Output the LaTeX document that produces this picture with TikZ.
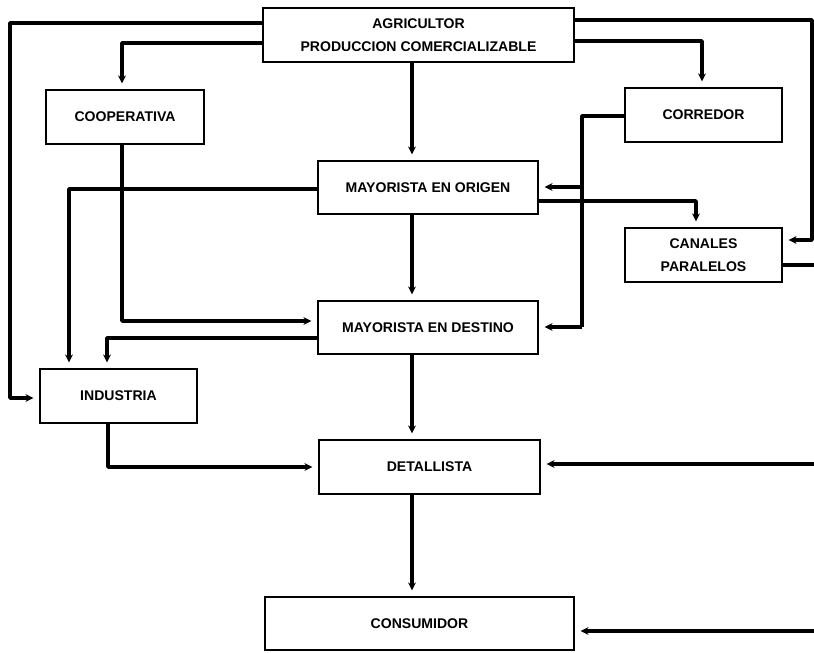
\documentclass[tikz,border=0pt]{standalone}
\usepackage{fontspec}
\setmainfont{Liberation Sans}
\usetikzlibrary{arrows.meta,calc}
\tikzset{
  box/.style={draw, line width=1.6pt, rectangle, inner sep=0pt, align=center,
    font=\fontsize{8}{13}\selectfont\bfseries},
  conn/.style={line width=2pt, line join=round},
  arr/.style={conn, -{Stealth[length=4.5pt,width=4.5pt]}, shorten >=3pt}
}
\begin{document}
\begin{tikzpicture}[x=0.02cm,y=-0.02cm]
\useasboundingbox (0,0) rectangle (814,652);
% boxes
\node[box, minimum width=6.22cm, minimum height=1.08cm] (agr) at (418.5,35) {AGRICULTOR\\PRODUCCION COMERCIALIZABLE};
\node[box, minimum width=3.16cm, minimum height=1.08cm] (coop) at (125,117) {COOPERATIVA};
\node[box, minimum width=3.14cm, minimum height=1.08cm] (corr) at (703.5,115) {CORREDOR};
\node[box, minimum width=4.4cm, minimum height=1.06cm] (mo) at (428,187.5) {MAYORISTA EN ORIGEN};
\node[box, minimum width=3.14cm, minimum height=1.08cm] (can) at (703.5,255) {CANALES\\PARALELOS};
\node[box, minimum width=4.4cm, minimum height=1.06cm] (md) at (428,327.5) {MAYORISTA EN DESTINO};
\node[box, minimum width=3.14cm, minimum height=1.08cm] (ind) at (118.5,396) {INDUSTRIA};
\node[box, minimum width=4.42cm, minimum height=1.08cm] (det) at (429.5,467) {DETALLISTA};
\node[box, minimum width=6.18cm, minimum height=1.06cm] (cons) at (419.5,623.5) {CONSUMIDOR};
% lane coordinates
\coordinate (cx) at (412,0);
\coordinate (lA) at (10,23);
\coordinate (lB) at (122,43);
\coordinate (rA) at (812,20);
\coordinate (rB) at (702,41);
\coordinate (rC) at (582,116);
\coordinate (rD) at (696,201);
\coordinate (lC) at (69,189);
\coordinate (lD) at (122,321);
\coordinate (lE) at (107,338);
\coordinate (lF) at (108,467);
\coordinate (eCan) at (814,265);
\coordinate (eDet) at (814,464);
\coordinate (eCons) at (814,631);
% connectors
\draw[arr] (agr.west |- lA) -- (lA) |- (ind.west |- 0,398);
\draw[arr] (agr.west |- lB) -| (coop.north -| lB);
\draw[arr] (agr.south -| cx) -- (mo.north -| cx);
\draw[arr] (agr.east |- rA) -| (rA |- 0,240) -- (can.east |- 0,240);
\draw[arr] (agr.east |- rB) -| (corr.north -| rB);
\draw[conn] (corr.west |- rC) -- (rC) -- (rC |- 0,327);
\draw[arr] (rC |- 0,327) -- (md.east |- 0,327);
\draw[arr] (rC |- 0,187) -- (mo.east |- 0,187);
\draw[arr] (mo.west |- lC) -| (ind.north -| lC);
\draw[arr] (mo.east |- rD) -| (can.north -| rD);
\draw[arr] (mo.south -| cx) -- (md.north -| cx);
\draw[arr] (coop.south -| lD) |- (md.west |- lD);
\draw[arr] (md.west |- lE) -| (ind.north -| lE);
\draw[arr] (md.south -| cx) -- (det.north -| cx);
\draw[arr] (ind.south -| lF) |- (det.west |- lF);
\draw[arr] (det.south -| cx) -- (cons.north -| cx);
\draw[conn] (can.east |- eCan) -- (eCan);
\draw[arr] (eDet) -- (det.east |- eDet);
\draw[arr] (eCons) -- (cons.east |- eCons);
\end{tikzpicture}
\end{document}
